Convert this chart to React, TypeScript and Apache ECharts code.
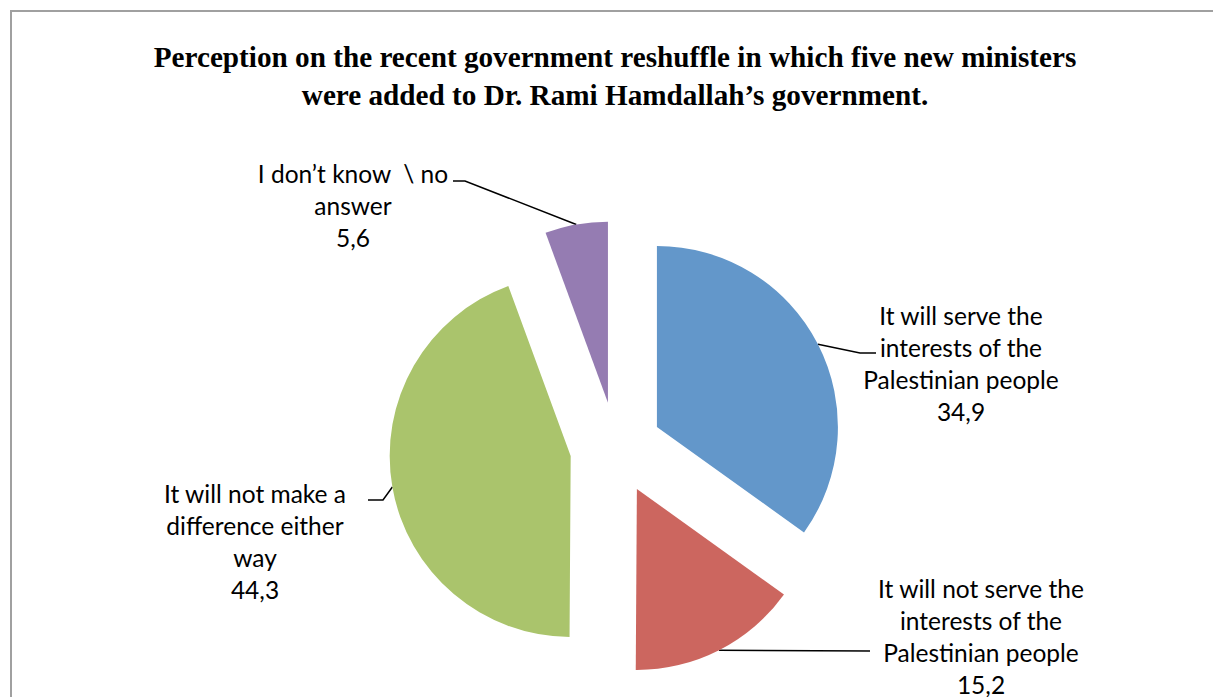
import React, { useEffect, useRef } from "react";
import * as echarts from "echarts";

// ---- data ----
const categories = [
  "It will serve the interests of the Palestinian people",
  "It will not serve the interests of the Palestinian people",
  "It will not make a difference either way",
  "I don’t know  \\ no answer",
];
const values = [34.9, 15.2, 44.3, 5.6];
const labelLines = [
  ["It will serve the", "interests of the", "Palestinian people"],
  ["It will not serve the", "interests of the", "Palestinian people"],
  ["It will not make a", "difference either", "way"],
  ["I don’t know  \\ no", "answer"],
];
const titleLines = [
  "Perception on the recent government reshuffle in which five new ministers",
  "were added to Dr. Rami Hamdallah’s government.",
];
const colors = ["#6397CA", "#CC665F", "#AAC46C", "#957CB2"];

// ---- layout ----
const CX = 616;
const CY = 448;
const R = 181;
const EXPLODE = 46;
const labelPos: { x: number; y: number; line: number[][] }[] = [
  { x: 961, y: 363, line: [[860, 353], [876, 353]] },
  { x: 981, y: 636, line: [[870, 651]] },
  { x: 255, y: 541, line: [[383, 500], [368, 500]] },
  { x: 353, y: 205, line: [[465, 181], [453, 181]] },
];

const fmt = (v: number) => v.toFixed(1).replace(".", ",");

export default function App() {
  const ref = useRef<HTMLDivElement>(null);
  useEffect(() => {
    if (!ref.current) return;
    const chart = echarts.init(ref.current, undefined, { renderer: "svg" });
    const total = values.reduce((a, b) => a + b, 0);
    let acc = 0;
    const mids = values.map((v) => {
      const m = ((acc + v / 2) / total) * 2 * Math.PI;
      acc += v;
      return m;
    });
    const series = values.map((_, i) => {
      const mid = mids[i];
      const cx = CX + EXPLODE * Math.sin(mid);
      const cy = CY - EXPLODE * Math.cos(mid);
      const anchor = [cx + R * Math.sin(mid), cy - R * Math.cos(mid)];
      return {
        type: "pie",
        silent: true,
        selectedMode: false,
        center: [cx, cy],
        radius: R,
        startAngle: 90,
        clockwise: true,
        avoidLabelOverlap: false,
        minShowLabelAngle: 0,
        emphasis: { disabled: true },
        data: values.map((v, j) => ({
          value: v,
          name: categories[j],
          itemStyle: { color: j === i ? colors[j] : "rgba(0,0,0,0)" },
          label: { show: j === i },
          labelLine: { show: j === i },
        })),
        label: {
          formatter: (p: any) =>
            labelLines[p.dataIndex].join("\n") + "\n" + fmt(p.value),
          fontFamily: "Lato",
          fontSize: 24.5,
          lineHeight: 32,
          color: "#000",
        },
        labelLine: {
          lineStyle: { color: "#000", width: 1.5 },
        },
        labelLayout: (p: any) => {
          if (p.dataIndex !== i) return {};
          const lp = labelPos[i];
          return {
            x: lp.x,
            y: lp.y,
            align: "center",
            verticalAlign: "middle",
            labelLinePoints: [anchor, ...lp.line],
          };
        },
      };
    });
    chart.setOption({
      animation: false,
      backgroundColor: "#fff",
      graphic: [
        {
          type: "rect",
          silent: true,
          z: -1,
          shape: { x: 11, y: 11, width: 1400, height: 900 },
          style: { fill: "none", stroke: "#a0a0a0", lineWidth: 2 },
        },
        {
          type: "text",
          x: 615,
          y: 38,
          style: {
            text: titleLines.join("\n"),
            fontFamily: "Liberation Serif",
            fontWeight: "bold",
            fontSize: 29.2,
            lineHeight: 38,
            fill: "#000",
            align: "center",
            verticalAlign: "top",
          },
        },
      ],
      series,
    });
    return () => chart.dispose();
  }, []);
  return (
    <div
      ref={ref}
      style={{ position: "fixed", left: 0, top: 0, width: 1213, height: 697 }}
    />
  );
}
